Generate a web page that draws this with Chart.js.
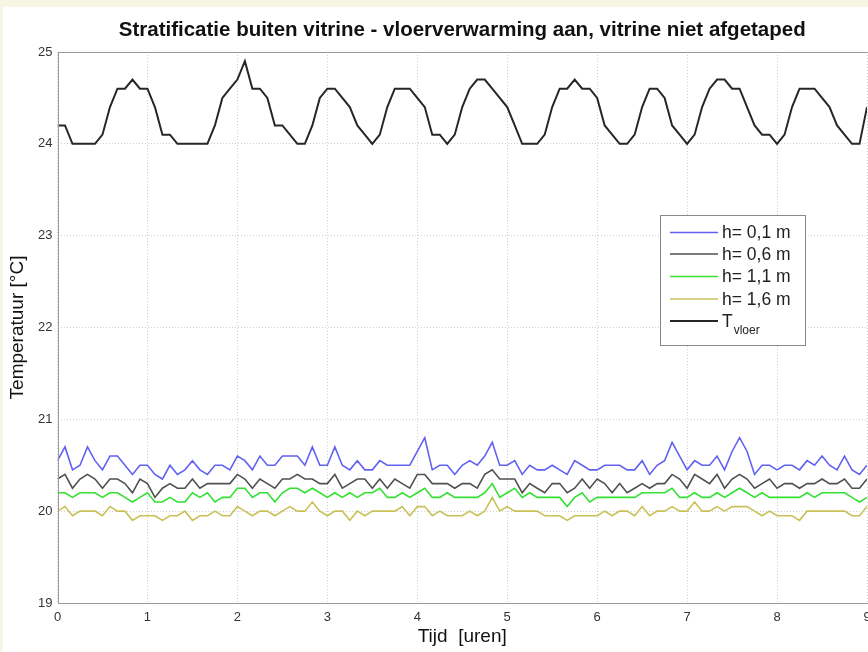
<!DOCTYPE html>
<html>
<head>
<meta charset="utf-8">
<script src="https://cdn.jsdelivr.net/npm/chart.js@4.4.1/dist/chart.umd.min.js"></script>
<style>
  html, body { margin: 0; padding: 0; background: #f6f6e4; overflow: hidden; width: 868px; height: 652px; }
  #wrap { position: absolute; left: 3px; top: 7px; width: 900px; height: 645px; background: #ffffff; }
</style>
</head>
<body>
<div id="wrap"><canvas id="c" width="900" height="645"></canvas></div>
<script>
// ---- data (5-minute samples, 0..9 h) ----
const stepHours = 1 / 12;
const xTicks = [0, 1, 2, 3, 4, 5, 6, 7, 8, 9];
const yTicks = [19, 20, 21, 22, 23, 24, 25];

const h01 = [20.55,20.7,20.45,20.5,20.7,20.55,20.45,20.6,20.6,20.5,20.4,20.5,20.5,20.4,20.35,20.5,20.4,20.45,20.55,20.45,20.4,20.5,20.5,20.45,20.6,20.55,20.45,20.6,20.5,20.5,20.6,
  20.6,20.6,20.5,20.7,20.5,20.5,20.7,20.5,20.45,20.55,20.45,20.45,20.55,20.5,20.5,20.5,20.5,20.65,20.8,20.45,20.5,20.5,20.4,20.5,20.55,20.5,20.6,20.75,20.5,20.5,20.55,20.4,20.5,20.45,20.45,20.5,20.45,20.4,20.55,20.5,20.45,
  20.45,20.5,20.5,20.5,20.45,20.45,20.55,20.4,20.5,20.55,20.75,20.6,20.45,20.55,20.5,20.5,20.6,20.45,20.65,20.8,20.65,20.4,20.5,20.5,20.45,20.5,20.5,20.45,20.55,20.5,20.6,20.5,20.45,20.6,20.45,20.4,20.5];

const h06 = [20.35,20.4,20.25,20.35,20.4,20.35,20.25,20.35,20.35,20.3,20.2,20.35,20.3,20.15,20.25,20.3,20.25,20.25,20.35,20.25,20.3,20.3,20.3,20.3,20.4,20.35,20.25,20.35,20.3,20.25,20.35,
  20.35,20.4,20.35,20.35,20.3,20.3,20.4,20.25,20.3,20.35,20.35,20.25,20.35,20.25,20.35,20.3,20.25,20.4,20.4,20.3,20.3,20.3,20.25,20.3,20.3,20.25,20.4,20.45,20.35,20.35,20.35,20.2,20.3,20.25,20.2,20.3,20.3,20.2,20.25,20.35,20.25,
  20.35,20.3,20.2,20.3,20.2,20.25,20.3,20.25,20.3,20.3,20.4,20.35,20.25,20.4,20.35,20.3,20.4,20.25,20.35,20.4,20.35,20.25,20.3,20.35,20.25,20.3,20.3,20.25,20.3,20.3,20.35,20.3,20.3,20.35,20.25,20.25,20.35];

const h11 = [20.2,20.2,20.15,20.2,20.2,20.2,20.15,20.2,20.2,20.15,20.1,20.15,20.2,20.1,20.1,20.15,20.1,20.1,20.2,20.15,20.2,20.1,20.15,20.15,20.25,20.25,20.15,20.2,20.2,20.1,20.2,
  20.25,20.25,20.2,20.25,20.2,20.15,20.2,20.15,20.2,20.15,20.2,20.2,20.25,20.15,20.15,20.2,20.15,20.2,20.25,20.15,20.15,20.2,20.15,20.15,20.15,20.15,20.2,20.3,20.15,20.2,20.25,20.15,20.2,20.15,20.15,20.15,20.15,20.05,20.15,20.2,20.1,
  20.15,20.15,20.15,20.15,20.15,20.15,20.2,20.2,20.2,20.2,20.25,20.15,20.15,20.2,20.15,20.15,20.2,20.15,20.2,20.25,20.2,20.15,20.2,20.15,20.15,20.15,20.15,20.15,20.2,20.15,20.2,20.2,20.2,20.2,20.15,20.1,20.15];

const h16 = [20.0,20.05,19.95,20.0,20.0,20.0,19.95,20.05,20.0,20.0,19.9,19.95,19.95,19.95,19.9,19.95,19.95,20.0,19.9,19.95,19.95,20.0,19.95,19.95,20.05,20.0,19.95,20.0,20.0,19.95,20.0,
  20.05,20.0,20.0,20.1,20.0,19.95,20.0,20.0,19.9,20.0,19.95,20.0,20.0,20.0,20.0,20.05,19.95,20.05,20.05,19.95,20.0,19.95,19.95,19.95,20.0,19.95,20.0,20.15,20.0,20.05,20.0,20.0,20.0,20.0,19.95,19.95,19.95,19.9,19.95,19.95,19.95,
  19.95,20.0,19.95,20.0,20.0,19.95,20.05,19.95,20.0,20.0,20.05,20.0,20.0,20.1,20.0,20.0,20.05,20.0,20.05,20.05,20.05,20.0,19.95,20.0,19.95,19.95,19.95,19.9,20.0,20.0,20.0,20.0,20.0,20.0,19.95,19.95,20.05];

const tVloer = [24.2,24.2,24.0,24.0,24.0,24.0,24.1,24.4,24.6,24.6,24.7,24.6,24.6,24.4,24.1,24.1,24.0,24.0,24.0,24.0,24.0,24.2,24.5,24.6,24.7,24.9,24.6,24.6,24.5,24.2,24.2,24.1,24.0,
  24.0,24.2,24.5,24.6,24.6,24.5,24.4,24.2,24.1,24.0,24.1,24.4,24.6,24.6,24.6,24.5,24.4,24.1,24.1,24.0,24.1,24.4,24.6,24.7,24.7,24.6,24.5,24.4,24.2,24.0,24.0,24.0,24.1,24.4,24.6,24.6,24.7,24.6,24.6,
  24.5,24.2,24.1,24.0,24.0,24.1,24.4,24.6,24.6,24.5,24.2,24.1,24.0,24.1,24.4,24.6,24.7,24.7,24.6,24.6,24.4,24.2,24.1,24.1,24.0,24.1,24.4,24.6,24.6,24.6,24.5,24.4,24.2,24.1,24.0,24.0,24.4];

const seriesLabels = ['h= 0,1 m', 'h= 0,6 m', 'h= 1,1 m', 'h= 1,6 m', 'T'];

function pts(arr) { return arr.map((v, i) => ({ x: i * stepHours, y: v })); }

const font = '"Liberation Sans", Arial, sans-serif';

const legendPlugin = {
  id: 'boxLegend',
  afterDraw(chart) {
    const ctx = chart.ctx;
    const a = chart.chartArea;
    ctx.save();
    // axes box
    ctx.strokeStyle = '#9a9a9a';
    ctx.lineWidth = 1;
    ctx.setLineDash([]);
    ctx.strokeRect(Math.round(a.left) + 0.5, Math.round(a.top) + 0.5, Math.round(a.right - a.left), Math.round(a.bottom - a.top));
    // legend box
    const bx = 657.5, by = 208.5, bw = 145, bh = 130;
    ctx.fillStyle = '#ffffff';
    ctx.fillRect(bx, by, bw, bh);
    ctx.strokeStyle = '#8a8a8a';
    ctx.strokeRect(bx, by, bw, bh);
    const rows = [225.5, 247, 269.5, 292, 314];
    chart.data.datasets.forEach((ds, i) => {
      const y = rows[i];
      ctx.strokeStyle = ds.borderColor;
      ctx.lineWidth = ds.borderWidth;
      ctx.beginPath();
      ctx.moveTo(667, y);
      ctx.lineTo(715, y);
      ctx.stroke();
      ctx.fillStyle = '#222';
      ctx.font = '17.5px ' + font;
      ctx.textBaseline = 'middle';
      ctx.textAlign = 'left';
      ctx.fillText(ds.label, 719, y + 1);
      if (ds.sub) {
        const w = ctx.measureText(ds.label).width;
        ctx.font = '12px ' + font;
        ctx.fillText(ds.sub, 719 + w + 1, y + 10);
      }
    });
    ctx.restore();
  }
};

new Chart(document.getElementById('c'), {
  type: 'line',
  data: {
    datasets: [
      { label: seriesLabels[0], data: pts(h01), borderColor: '#6262f2', borderWidth: 1.6 },
      { label: seriesLabels[1], data: pts(h06), borderColor: '#505050', borderWidth: 1.6 },
      { label: seriesLabels[2], data: pts(h11), borderColor: '#33e033', borderWidth: 1.6 },
      { label: seriesLabels[3], data: pts(h16), borderColor: '#c9c158', borderWidth: 1.6 },
      { label: seriesLabels[4], sub: 'vloer', data: pts(tVloer), borderColor: '#262626', borderWidth: 2 }
    ]
  },
  options: {
    responsive: false,
    animation: false,
    events: [],
    layout: { padding: { left: 0, right: 36, top: 0, bottom: 0 } },
    elements: { point: { radius: 0 }, line: { tension: 0, fill: false } },
    plugins: {
      legend: { display: false },
      tooltip: { enabled: false },
      title: {
        display: true,
        fullSize: false,
        text: 'Stratificatie buiten vitrine - vloerverwarming aan, vitrine niet afgetaped',
        color: '#111',
        font: { family: font, size: 20.5, weight: 'bold', lineHeight: 1.2 },
        padding: { top: 11.5, bottom: 8.9 }
      }
    },
    scales: {
      x: {
        type: 'linear',
        min: 0, max: 9,
        afterFit(s) { s.height = 49; },
        afterBuildTicks(s) { s.ticks = xTicks.map(v => ({ value: v })); },
        grid: { color: '#cfcfcf', drawTicks: false, lineWidth: 1 },
        border: { display: false, dash: [1, 2] },
        ticks: { color: '#333', font: { family: font, size: 13 }, padding: 7, maxRotation: 0, autoSkip: false },
        title: { display: true, text: 'Tijd  [uren]', color: '#111', font: { family: font, size: 19, lineHeight: 1.2 }, padding: { top: 0, bottom: 4 } }
      },
      y: {
        min: 19, max: 25,
        afterFit(s) { s.width = 54.5; },
        afterBuildTicks(s) { s.ticks = yTicks.map(v => ({ value: v })); },
        grid: { color: '#cfcfcf', drawTicks: false, lineWidth: 1 },
        border: { display: false, dash: [1, 2] },
        ticks: { color: '#333', font: { family: font, size: 13 }, padding: 5 },
        title: { display: true, text: 'Temperatuur [°C]', color: '#111', font: { family: font, size: 19, lineHeight: 1.2 }, padding: { top: 3.6, bottom: 0 } }
      }
    }
  },
  plugins: [legendPlugin]
});
</script>
</body>
</html>
